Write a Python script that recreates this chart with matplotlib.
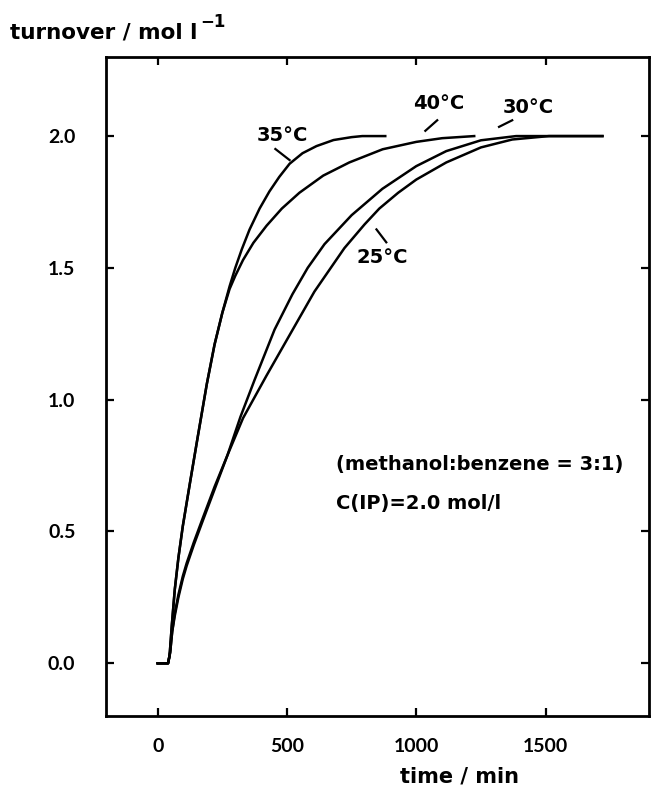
import matplotlib
matplotlib.use("Agg")
import matplotlib.pyplot as plt

plt.rcParams['font.family'] = ['DejaVu Sans']

# turnover curves (time in min, turnover in mol/l)
t35 = [0, 40, 46, 55, 66, 80, 97, 124, 155, 190, 220, 250, 278, 300, 325, 355, 394, 432, 470, 510, 560, 614, 680, 750, 791, 880]
y35 = [0, 0, 0.03, 0.15, 0.28, 0.40, 0.52, 0.68, 0.86, 1.06, 1.21, 1.33, 1.43, 1.50, 1.57, 1.645, 1.725, 1.79, 1.845, 1.895, 1.935, 1.962, 1.985, 1.996, 2.0, 2.0]

t40 = [0, 40, 46, 55, 66, 80, 97, 124, 155, 190, 220, 250, 278, 300, 330, 370, 421, 480, 548, 640, 741, 870, 1000, 1100, 1224]
y40 = [0, 0, 0.03, 0.15, 0.28, 0.40, 0.52, 0.68, 0.86, 1.06, 1.21, 1.33, 1.42, 1.47, 1.53, 1.595, 1.66, 1.725, 1.785, 1.85, 1.90, 1.95, 1.978, 1.992, 2.0]

t30 = [0, 40, 48, 56, 66, 80, 97, 112, 140, 174, 220, 270, 320, 375, 452, 521, 580, 645, 750, 869, 1000, 1116, 1250, 1386, 1500, 1720]
y30 = [0, 0, 0.04, 0.12, 0.18, 0.25, 0.32, 0.37, 0.45, 0.54, 0.66, 0.79, 0.935, 1.076, 1.266, 1.40, 1.50, 1.59, 1.70, 1.80, 1.886, 1.943, 1.984, 2.0, 2.0, 2.0]

t25 = [0, 40, 48, 56, 66, 80, 97, 112, 140, 174, 220, 270, 330, 420, 510, 606, 722, 800, 857, 930, 1000, 1116, 1250, 1371, 1513, 1720]
y25 = [0, 0, 0.04, 0.12, 0.19, 0.26, 0.33, 0.38, 0.46, 0.55, 0.67, 0.79, 0.93, 1.09, 1.245, 1.41, 1.575, 1.665, 1.725, 1.785, 1.835, 1.90, 1.957, 1.987, 2.0, 2.0]

# curve labels: text, text position, leader start, leader end
labels = ['35°C', '40°C', '30°C', '25°C']
label_xy = [(483, 2.004), (1085, 2.125), (1432, 2.11), (869, 1.54)]
leader_a = [(455, 1.951), (1035, 2.02), (1320, 2.035), (846, 1.646)]
leader_b = [(510, 1.909), (1081, 2.06), (1371, 2.06), (884, 1.597)]

fig = plt.figure(figsize=(6.51, 7.88), dpi=100)
ax = fig.add_axes([106 / 651, 1 - 716 / 788, 543 / 651, 659 / 788])

for t, y in [(t35, y35), (t40, y40), (t30, y30), (t25, y25)]:
    ax.plot(t, y, color='black', lw=1.8, solid_joinstyle='round')

for lab, xy, a, b in zip(labels, label_xy, leader_a, leader_b):
    ax.text(xy[0], xy[1], lab, ha='center', va='center', fontsize=14, fontweight='bold')
    ax.plot([a[0], b[0]], [a[1], b[1]], color='black', lw=1.6)

ax.text(691, 0.753, '(methanol:benzene = 3:1)', ha='left', va='center', fontsize=14, fontweight='bold')
ax.text(691, 0.608, 'C(IP)=2.0 mol/l', ha='left', va='center', fontsize=14, fontweight='bold')

ax.set_xlim(-200, 1900)
ax.set_ylim(-0.2, 2.3)
ax.set_xticks([0, 500, 1000, 1500])
ax.set_yticks([0.0, 0.5, 1.0, 1.5, 2.0])
ax.set_yticklabels(['0.0', '0.5', '1.0', '1.5', '2.0'])
ax.tick_params(direction='in', length=6, width=1.6, top=True, right=True)
ax.tick_params(axis='x', pad=16)
ax.tick_params(axis='y', pad=22)
for lab in ax.get_xticklabels() + ax.get_yticklabels():
    lab.set_family(['Lato', 'DejaVu Sans'])
    lab.set_fontsize(14)
    lab.set_fontweight('bold')
for s in ax.spines.values():
    s.set_linewidth(2.0)

ylab = fig.text(10 / 651, 1 - 38 / 788, 'turnover / mol l', ha='left', va='baseline',
                fontsize=15.5, fontweight='bold')
fig.canvas.draw()
ax.annotate('\u22121', xy=(1.0, 0.0), xycoords=ylab, xytext=(2, 11),
            textcoords='offset points', ha='left', va='baseline', fontsize=12,
            fontweight='bold')
fig.text(460 / 651, 1 - 776 / 788, 'time / min', ha='center', va='center', fontsize=15, fontweight='bold')

fig.savefig('out.png', dpi=100)
